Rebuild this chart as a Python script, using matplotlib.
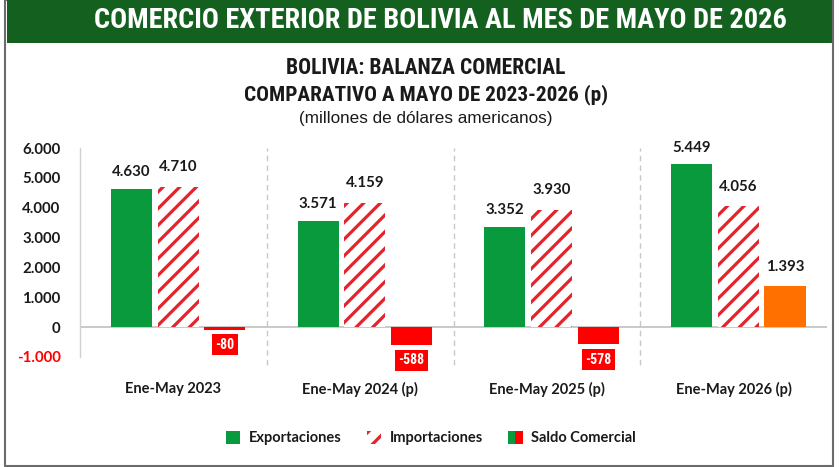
import matplotlib
matplotlib.use("Agg")
import matplotlib.pyplot as plt
import numpy as np
from matplotlib import font_manager
from matplotlib.patches import Rectangle, Patch
from matplotlib.legend_handler import HandlerTuple

categories = ["Ene-May 2023", "Ene-May 2024 (p)", "Ene-May 2025 (p)", "Ene-May 2026 (p)"]
exportaciones = [4630, 3571, 3352, 5449]
importaciones = [4710, 4159, 3930, 4056]
saldo = [-80, -588, -578, 1393]
yticks = [-1000, 0, 1000, 2000, 3000, 4000, 5000, 6000]
ytick_labels = ["-1.000", "0", "1.000", "2.000", "3.000", "4.000", "5.000", "6.000"]

def has_font(name):
    try:
        font_manager.findfont(name, fallback_to_default=False)
        return True
    except Exception:
        return False

NARROW = "Liberation Sans"
for cand in ["Liberation Sans Narrow", "DejaVu Sans Condensed", "Roboto Condensed", "Open Sans Condensed"]:
    if has_font(cand):
        NARROW = cand
        break
BODY = "Lato" if has_font("Lato") else "DejaVu Sans"

GREEN = "#0a9a3e"
HATCH_RED = "#e3242b"
NEG_RED = "#ff0000"
POS_ORANGE = "#ff7000"
TXT = "#1a1a1a"

plt.rcParams["hatch.linewidth"] = 2.3

fig = plt.figure(figsize=(8.4, 4.67), dpi=100)
W, H = 840, 467

# frame and header band
fig.patches.append(Rectangle((5 / W, 1 / H), 828 / W, 466 / H, transform=fig.transFigure,
                             facecolor="none", edgecolor="#6b6b6b", lw=1.5, zorder=-1))
fig.patches.append(Rectangle((7 / W, (H - 43) / H), 825 / W, 43 / H, transform=fig.transFigure,
                             facecolor="#13601f", edgecolor="none", zorder=1))
fig.text(440 / W, 1 - 21 / H, "COMERCIO EXTERIOR DE BOLIVIA AL MES DE MAYO DE 2026",
         ha="center", va="center", color="white", fontsize=20.4, fontweight="bold", family=NARROW)
fig.text(426 / W, 1 - 68 / H, "BOLIVIA: BALANZA COMERCIAL", ha="center", va="center",
         color=TXT, fontsize=15.5, fontweight="bold", family=NARROW)
fig.text(426 / W, 1 - 95 / H, "COMPARATIVO A MAYO DE 2023-2026 (p)", ha="center", va="center",
         color=TXT, fontsize=15.3, fontweight="bold", family=NARROW)
fig.text(426 / W, 1 - 118 / H, "(millones de dólares americanos)", ha="center", va="center",
         color=TXT, fontsize=12.3, family="Liberation Sans")

ax = fig.add_axes([80 / W, (H - 357) / H, 747 / W, 209 / H])
ax.set_xlim(-0.5, 3.5)
ax.set_ylim(-1000, 6000)

x = np.arange(len(categories))
bw = 0.22
step = 0.25
shift = 0.025

ax.bar(x - step + shift, exportaciones, width=bw, color=GREEN, zorder=3)
ax.bar(x + shift, importaciones, width=bw, facecolor="white", edgecolor=HATCH_RED,
       hatch="//", linewidth=0, zorder=3)
saldo_colors = [NEG_RED if v < 0 else POS_ORANGE for v in saldo]
ax.bar(x + step + shift, saldo, width=bw, color=saldo_colors, zorder=3)

def fmt(v):
    s = f"{abs(v):,}".replace(",", ".")
    return ("-" if v < 0 else "") + s

for i in range(len(categories)):
    ax.annotate(fmt(exportaciones[i]), (x[i] - step + shift, exportaciones[i]),
                xytext=(0, 7), textcoords="offset points", ha="center", va="bottom",
                fontsize=10.8, fontweight="bold", color=TXT, family=BODY)
    ax.annotate(fmt(importaciones[i]), (x[i] + shift, importaciones[i]),
                xytext=(0, 9), textcoords="offset points", ha="center", va="bottom",
                fontsize=10.8, fontweight="bold", color=TXT, family=BODY)
    if saldo[i] < 0:
        ax.annotate(fmt(saldo[i]), (x[i] + step + shift, saldo[i]),
                    xytext=(0, -6), textcoords="offset points", ha="center", va="top",
                    fontsize=10, fontweight="bold", color="white", family=NARROW,
                    bbox=dict(boxstyle="square,pad=0.25", facecolor=NEG_RED, edgecolor="none"))
    else:
        ax.annotate(fmt(saldo[i]), (x[i] + step + shift, saldo[i]),
                    xytext=(0, 8), textcoords="offset points", ha="center", va="bottom",
                    fontsize=10.8, fontweight="bold", color=TXT, family=BODY)

# separators
for s in [0.5, 1.5, 2.5]:
    ax.axvline(s, ymin=-0.04, ymax=1.0, color="#c8c8c8", lw=1, ls=(0, (4, 3)), zorder=1, clip_on=False)
ax.axhline(0, color="#c0c0c0", lw=1.2, zorder=2)

for sp in ["top", "right", "bottom"]:
    ax.spines[sp].set_visible(False)
ax.spines["left"].set_color("#d0d0d0")
ax.spines["left"].set_linewidth(1)

ax.set_yticks(yticks)
ax.set_yticklabels(ytick_labels)
ax.tick_params(axis="y", length=0, pad=14)
for lbl in ax.get_yticklabels():
    lbl.set_fontweight("bold")
    lbl.set_fontsize(10.8)
    lbl.set_family(BODY)
    lbl.set_color(NEG_RED if lbl.get_text().startswith("-") else TXT)

ax.set_xticks(x)
ax.set_xticklabels(categories)
ax.tick_params(axis="x", length=0, pad=18)
for lbl in ax.get_xticklabels():
    lbl.set_fontweight("bold")
    lbl.set_fontsize(10.5)
    lbl.set_family(BODY)
    lbl.set_color(TXT)

h1 = Patch(facecolor=GREEN, edgecolor="none")
h2 = Patch(facecolor="white", edgecolor=HATCH_RED, hatch="//", linewidth=0)
h3 = (Patch(facecolor=GREEN, edgecolor="none"), Patch(facecolor=NEG_RED, edgecolor="none"))
leg = fig.legend([h1, h2, h3], ["Exportaciones", "Importaciones", "Saldo Comercial"],
                 handler_map={tuple: HandlerTuple(ndivide=None, pad=0)},
                 loc="center", bbox_to_anchor=(431 / W, 1 - 438 / H), ncol=3, frameon=False,
                 handlelength=1.0, handleheight=1.0, handletextpad=0.6, columnspacing=1.7,
                 prop=dict(family=BODY, weight="bold", size=10.5))
for t in leg.get_texts():
    t.set_color(TXT)

fig.savefig("out.png", dpi=100)
